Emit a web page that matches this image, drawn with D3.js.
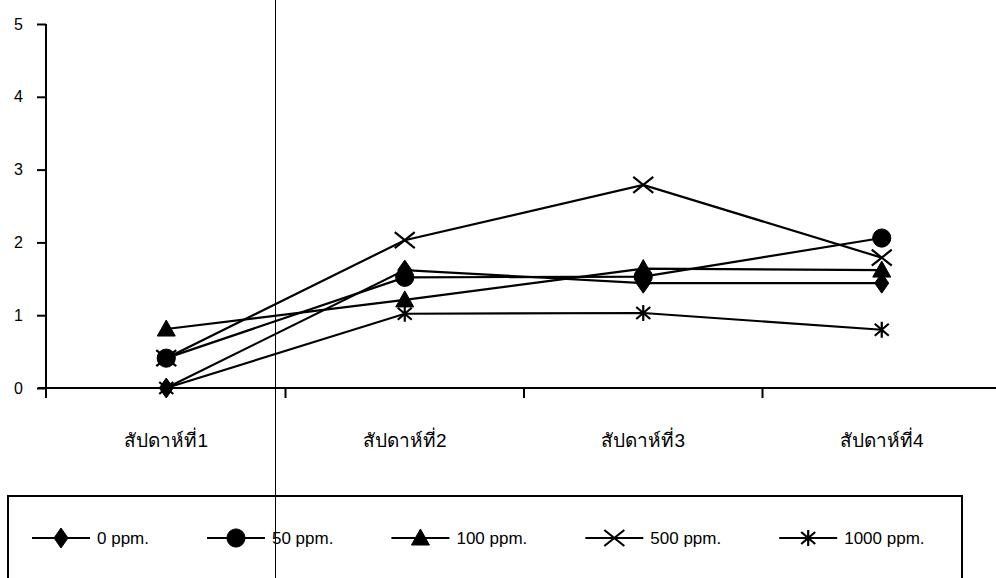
<!DOCTYPE html>
<html>
<head>
<meta charset="utf-8">
<script src="https://cdn.jsdelivr.net/npm/d3@7"></script>
<style>
  body { margin: 0; background: #fff; }
  svg { display: block; font-family: "Liberation Sans", Arial, sans-serif; }
</style>
</head>
<body>
<div id="chart"></div>
<script>
const weeks = ["สัปดาห์ที่1", "สัปดาห์ที่2", "สัปดาห์ที่3", "สัปดาห์ที่4"];
const seriesNames = ["0 ppm.", "50 ppm.", "100 ppm.", "500 ppm.", "1000 ppm."];
const ppm0 = [0, 1.62, 1.44, 1.44];
const ppm50 = [0.41, 1.52, 1.53, 2.06];
const ppm100 = [0.81, 1.21, 1.64, 1.62];
const ppm500 = [0.41, 2.03, 2.79, 1.79];
const ppm1000 = [0, 1.02, 1.03, 0.80];
const yTicks = [0, 1, 2, 3, 4, 5];
const markers = ["diamond", "circle", "triangle", "cross", "star"];

const width = 996, height = 578;
const allSeries = [ppm0, ppm50, ppm100, ppm500, ppm1000];

const svg = d3.select("#chart").append("svg")
    .attr("width", width)
    .attr("height", height);

const x = d3.scaleBand().domain(weeks).range([47, 1001]);
const y = d3.scaleLinear().domain([0, 5]).range([388, 24]);
const cx = d => x(d) + x.bandwidth() / 2;

// marker shapes, centred on 0,0
function markerPath(kind) {
    if (kind === "diamond") return "M0,-10L7,0L0,10L-7,0Z";
    if (kind === "circle") return d3.symbol(d3.symbolCircle, 260)();
    if (kind === "triangle") return "M0,-9L9,7L-9,7Z";
    if (kind === "cross") return "M-10,-8L10,8M-10,8L10,-8";
    return "M-7,-6L7,6M-7,6L7,-6M0,-8L0,8";
}
function drawMarker(g, kind) {
    const open = kind === "cross" || kind === "star";
    g.append("path")
        .attr("d", markerPath(kind))
        .attr("fill", open ? "none" : "#000")
        .attr("stroke", "#000")
        .attr("stroke-width", open ? 2.2 : 1);
}

// y axis
const yAxis = svg.append("g").attr("transform", "translate(46,0)")
    .call(d3.axisLeft(y).tickValues(yTicks).tickSize(9).tickPadding(14).tickFormat(d3.format("d")));
yAxis.select(".domain").remove();
yAxis.selectAll(".tick line").attr("stroke", "#000").attr("stroke-width", 2);
yAxis.selectAll(".tick text").attr("font-size", 16).attr("fill", "#000");
svg.append("line").attr("x1", 46).attr("x2", 46).attr("y1", 24).attr("y2", 398)
    .attr("stroke", "#000").attr("stroke-width", 2);

// x axis
svg.append("line").attr("x1", 38).attr("x2", width).attr("y1", y(0)).attr("y2", y(0))
    .attr("stroke", "#000").attr("stroke-width", 2);
svg.selectAll(".xtick").data(weeks.slice(1))
    .join("line")
    .attr("class", "xtick")
    .attr("x1", d => x(d)).attr("x2", d => x(d))
    .attr("y1", y(0)).attr("y2", y(0) + 10)
    .attr("stroke", "#000").attr("stroke-width", 2);
svg.selectAll(".xlabel").data(weeks)
    .join("text")
    .attr("class", "xlabel")
    .attr("x", cx)
    .attr("y", 447)
    .attr("text-anchor", "middle")
    .attr("font-size", 19)
    .text(d => d);

// series lines and markers
const line = d3.line()
    .x((d, i) => cx(weeks[i]))
    .y(d => y(d));

allSeries.forEach(vals => {
    svg.append("path")
        .attr("d", line(vals))
        .attr("fill", "none")
        .attr("stroke", "#000")
        .attr("stroke-width", 2.2);
});
allSeries.forEach((vals, s) => {
    vals.forEach((v, i) => {
        const g = svg.append("g")
            .attr("transform", `translate(${cx(weeks[i])},${y(v)})`);
        drawMarker(g, markers[s]);
    });
});

// legend
svg.append("rect")
    .attr("x", 8).attr("y", 496)
    .attr("width", 954).attr("height", 100)
    .attr("fill", "none").attr("stroke", "#000").attr("stroke-width", 2);

let lx = 32;
seriesNames.forEach((name, s) => {
    const g = svg.append("g").attr("transform", `translate(${lx},538)`);
    g.append("line").attr("x1", 0).attr("x2", 58).attr("stroke", "#000").attr("stroke-width", 2);
    const m = g.append("g").attr("transform", "translate(29,0)");
    drawMarker(m, markers[s]);
    const t = g.append("text").attr("x", 65).attr("y", 6).attr("font-size", 17).text(name);
    lx += 65 + t.node().getComputedTextLength() + 58;
});

// thin vertical rule crossing the whole page
svg.append("line").attr("x1", 275.5).attr("x2", 275.5).attr("y1", 0).attr("y2", height)
    .attr("stroke", "#000").attr("stroke-width", 1);
</script>
</body>
</html>
